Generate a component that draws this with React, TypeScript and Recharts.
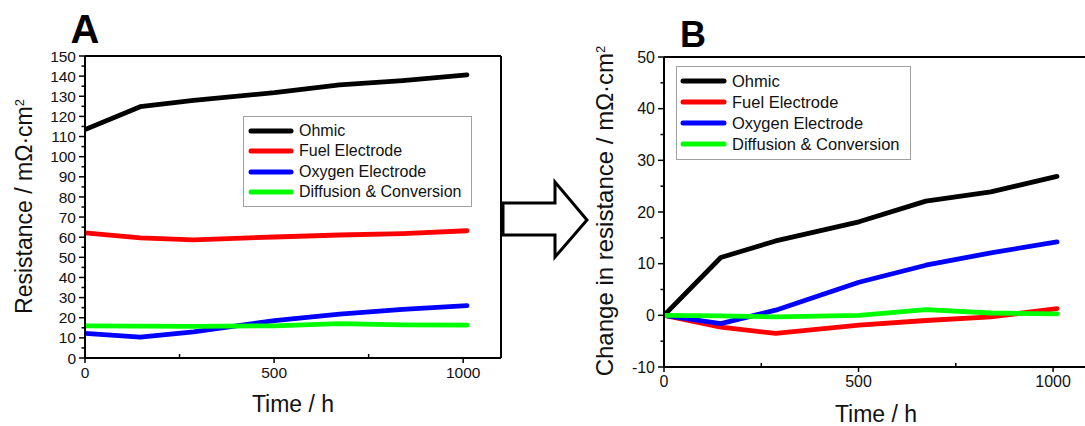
import React from "react";
import { Legend, Line, LineChart, ReferenceLine, XAxis, YAxis } from "recharts";

// time axis (h)
const times = [0, 146, 287, 501, 673, 840, 1010];

const seriesKeys = ["ohmic", "fuel", "oxygen", "diffusion"];
const seriesNames = ["Ohmic", "Fuel Electrode", "Oxygen Electrode", "Diffusion & Conversion"];
const seriesColors = ["#000000", "#ff0000", "#0000ff", "#00ff00"];

// panel A: resistance / mOhm cm2
const ohmicA = [113.5, 124.8, 128.0, 131.8, 135.7, 137.8, 140.6];
const fuelA = [62.2, 59.7, 58.7, 60.1, 61.1, 61.8, 63.2];
const oxygenA = [12.2, 10.4, 13.0, 18.6, 21.8, 24.2, 26.0];
const diffusionA = [16.0, 15.8, 15.7, 16.0, 17.1, 16.5, 16.3];

// panel B: change in resistance / mOhm cm2
const ohmicB = [0, 11.2, 14.4, 18.1, 22.1, 23.9, 26.9];
const fuelB = [0, -2.3, -3.5, -1.9, -1.0, -0.3, 1.3];
const oxygenB = [0, -1.6, 1.0, 6.4, 9.7, 12.1, 14.2];
const diffusionB = [0, -0.1, -0.3, 0, 1.1, 0.45, 0.3];

const xTicks = [0, 250, 500, 750, 1000];
const yTicksA = [
  0, 5, 10, 15, 20, 25, 30, 35, 40, 45, 50, 55, 60, 65, 70, 75, 80, 85, 90, 95, 100,
  105, 110, 115, 120, 125, 130, 135, 140, 145, 150,
];
const yTicksB = [-10, -5, 0, 5, 10, 15, 20, 25, 30, 35, 40, 45, 50];

const FONT = "'Liberation Sans', Arial, sans-serif";
const TICK_SIZE = 6;
const TICK_MARGIN = 3;

const rowsA = times.map((t, i) => ({
  time: t,
  ohmic: ohmicA[i],
  fuel: fuelA[i],
  oxygen: oxygenA[i],
  diffusion: diffusionA[i],
}));

const rowsB = times.map((t, i) => ({
  time: t,
  ohmic: ohmicB[i],
  fuel: fuelB[i],
  oxygen: oxygenB[i],
  diffusion: diffusionB[i],
}));

function makeYTick(fontSize: number) {
  return (props: any) => {
    const { x, y, payload } = props;
    const v = payload.value;
    const major = v % 10 === 0;
    const ax = x + TICK_SIZE + TICK_MARGIN;
    return (
      <g>
        <line x1={ax} x2={ax - (major ? 6 : 3.5)} y1={y} y2={y} stroke="#000" strokeWidth={1.5} />
        {major && (
          <text x={x} y={y} dy="0.36em" textAnchor="end" fontSize={fontSize} fill="#111" fontFamily={FONT}>
            {v}
          </text>
        )}
      </g>
    );
  };
}

function makeXTick(fontSize: number) {
  return (props: any) => {
    const { x, y, payload } = props;
    const v = payload.value;
    const major = v % 500 === 0;
    const ay = y - TICK_SIZE - TICK_MARGIN;
    return (
      <g>
        <line x1={x} x2={x} y1={ay} y2={major ? ay + 5 : ay - 4} stroke="#000" strokeWidth={1.5} />
        {major && (
          <text x={x} y={y} dy="0.71em" textAnchor="middle" fontSize={fontSize} fill="#111" fontFamily={FONT}>
            {v}
          </text>
        )}
      </g>
    );
  };
}

function makeLegend(fontSize: number, rowH: number, padTop: number, padLeft: number, lineLen: number) {
  return (props: any) => {
    // keep the series order, not the alphabetical one
    const items = [...(props.payload || [])].sort(
      (a: any, b: any) => seriesNames.indexOf(a.value) - seriesNames.indexOf(b.value)
    );
    return (
      <div
        style={{
          border: "1px solid #a0a0a0",
          background: "#fff",
          paddingTop: padTop,
          paddingBottom: 4,
          boxSizing: "border-box",
          fontFamily: FONT,
          fontSize,
          color: "#111",
        }}
      >
        {items.map((item: any) => (
          <div key={item.value} style={{ display: "flex", alignItems: "center", height: rowH }}>
            <svg width={lineLen + 6} height={8} style={{ marginLeft: padLeft - 3 }}>
              <line x1={3} x2={lineLen + 3} y1={4} y2={4} stroke={item.color} strokeWidth={5} strokeLinecap="round" />
            </svg>
            <span style={{ marginLeft: 5, whiteSpace: "nowrap" }}>{item.value}</span>
          </div>
        ))}
      </div>
    );
  };
}

type PanelProps = {
  data: any[];
  width: number;
  margin: { top: number; right: number; bottom: number; left: number };
  yDomain: [number, number];
  yTicks: number[];
  tickFont: number;
  legendStyle: React.CSSProperties;
  legendContent: (p: any) => React.ReactElement;
};

function Panel({ data, width, margin, yDomain, yTicks, tickFont, legendStyle, legendContent }: PanelProps) {
  return (
    <LineChart width={width} height={426} data={data} margin={margin}>
      <XAxis
        dataKey="time"
        type="number"
        domain={[0, 1100]}
        ticks={xTicks}
        interval={0}
        allowDataOverflow
        height={30}
        tickSize={TICK_SIZE}
        tickMargin={TICK_MARGIN}
        tickLine={false}
        axisLine={{ stroke: "#000", strokeWidth: 2 }}
        tick={makeXTick(tickFont)}
      />
      <YAxis
        type="number"
        domain={yDomain}
        ticks={yTicks}
        interval={0}
        allowDataOverflow
        width={60}
        tickSize={TICK_SIZE}
        tickMargin={TICK_MARGIN}
        tickLine={false}
        axisLine={{ stroke: "#000", strokeWidth: 2 }}
        tick={makeYTick(tickFont)}
      />
      <ReferenceLine y={yDomain[1]} stroke="#000" strokeWidth={2} ifOverflow="visible" />
      <ReferenceLine x={1100} stroke="#000" strokeWidth={2} ifOverflow="visible" />
      {seriesKeys.map((k, i) => (
        <Line
          key={k}
          type="linear"
          dataKey={k}
          name={seriesNames[i]}
          stroke={seriesColors[i]}
          strokeWidth={4.8}
          strokeLinecap="round"
          strokeLinejoin="round"
          dot={false}
          activeDot={false}
          isAnimationActive={false}
        />
      ))}
      <Legend layout="vertical" verticalAlign="middle" align="center" wrapperStyle={legendStyle} content={legendContent} />
    </LineChart>
  );
}

export default function App() {
  return (
    <div
      style={{
        position: "absolute",
        left: 0,
        top: 0,
        width: 1085,
        height: 426,
        overflow: "hidden",
        background: "#fff",
      }}
    >
      <div style={{ position: "absolute", left: 0, top: 0 }}>
        <Panel
          data={rowsA}
          width={520}
          margin={{ top: 56, right: 19, bottom: 38, left: 25 }}
          yDomain={[0, 150]}
          yTicks={yTicksA}
          tickFont={15.5}
          legendStyle={{ left: 243, top: 116, width: 229 }}
          legendContent={makeLegend(16, 20.3, 4, 7, 40)}
        />
      </div>
      <div style={{ position: "absolute", left: 540, top: 0 }}>
        <Panel
          data={rowsB}
          width={560}
          margin={{ top: 57, right: 8, bottom: 29, left: 64 }}
          yDomain={[-10, 50]}
          yTicks={yTicksB}
          tickFont={16}
          legendStyle={{ left: 136, top: 66, width: 235 }}
          legendContent={makeLegend(16.5, 20.9, 4, 6, 41)}
        />
      </div>
      <svg
        width={1085}
        height={426}
        style={{ position: "absolute", left: 0, top: 0, pointerEvents: "none" }}
        fontFamily={FONT}
      >
        <text x={85} y={43} textAnchor="middle" fontSize={40} fontWeight="bold" fill="#000">
          A
        </text>
        <text x={693} y={47} textAnchor="middle" fontSize={36} fontWeight="bold" fill="#000">
          B
        </text>
        <text transform="translate(32,206.5) rotate(-90)" textAnchor="middle" fontSize={23} fill="#111">
          Resistance / mΩ·cm<tspan dy={-8} fontSize={13}>2</tspan>
        </text>
        <text x={293} y={411.5} textAnchor="middle" fontSize={23} fill="#111">
          Time / h
        </text>
        <text transform="translate(613,211) rotate(-90)" textAnchor="middle" fontSize={24} fill="#111">
          Change in resistance / mΩ·cm<tspan dy={-8} fontSize={13}>2</tspan>
        </text>
        <text x={876} y={421.5} textAnchor="middle" fontSize={23} fill="#111">
          Time / h
        </text>
        <polygon
          points="503,203 555,203 555,182 587,220 555,257 555,235 503,235"
          fill="#fff"
          stroke="#000"
          strokeWidth={3}
          strokeLinejoin="miter"
        />
      </svg>
    </div>
  );
}
